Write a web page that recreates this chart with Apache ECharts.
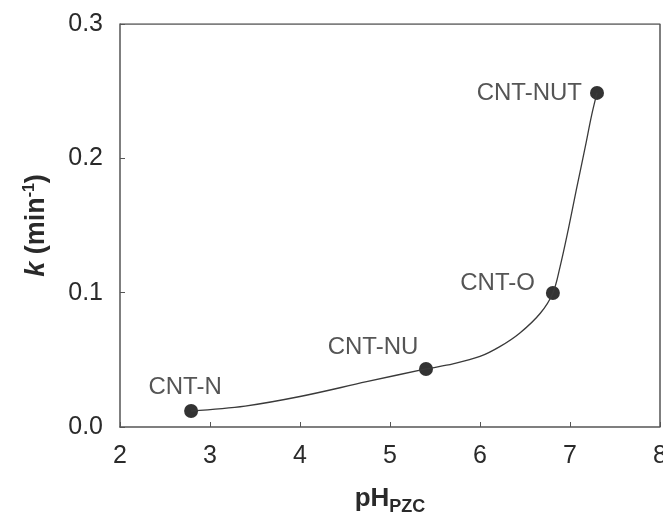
<!DOCTYPE html>
<html>
<head>
<meta charset="utf-8">
<script src="https://cdn.jsdelivr.net/npm/echarts@6/dist/echarts.min.js"></script>
<style>html,body{margin:0;padding:0;background:#fff}#c{width:663px;height:517px}</style>
</head>
<body>
<div id="c"></div>
<script>
// Sample points
const sampleNames = ['CNT-N', 'CNT-NU', 'CNT-O', 'CNT-NUT'];
const samplePH = [2.79, 5.40, 6.81, 7.30];
const sampleK = [0.0119, 0.0432, 0.0998, 0.2487];
// Fitted curve
const curvePH = [2.79, 3.39, 4.0, 4.74, 5.40, 5.70, 6.0, 6.22, 6.44, 6.67, 6.81, 6.89, 6.98, 7.07, 7.17, 7.24, 7.30];
const curveK = [0.0119, 0.0156, 0.0227, 0.0337, 0.0432, 0.0470, 0.0525, 0.0598, 0.0698, 0.0847, 0.0998, 0.1194, 0.1467, 0.1765, 0.2087, 0.2320, 0.2487];
const xTicks = [2, 3, 4, 5, 6, 7, 8];
const yTicks = [0.0, 0.1, 0.2, 0.3];

const labelPlacement = [
  { position: 'top', offset: [-6, 0] },
  { position: 'top', offset: [-53, 2] },
  { position: 'left', offset: [-6, -10] },
  { position: 'left', offset: [-3, 0] }
];

const chart = echarts.init(document.getElementById('c'));
const font = 'Liberation Sans, Arial, sans-serif';
const textColor = '#2a2a2a';
chart.setOption({
  animation: false,
  grid: { left: 120, top: 24, right: 3, bottom: 90, outerBoundsMode: 'none', containLabel: false },
  xAxis: {
    type: 'value', min: xTicks[0], max: xTicks[xTicks.length - 1], interval: 1,
    name: '{b|pH}{s|PZC}', nameLocation: 'middle', nameGap: 55,
    nameTextStyle: { rich: {
      b: { fontFamily: font, fontWeight: 'bold', fontSize: 26, color: textColor },
      s: { fontFamily: font, fontWeight: 'bold', fontSize: 18, color: textColor, verticalAlign: 'bottom', padding: [16, 0, 0, 0] }
    } },
    axisLine: { lineStyle: { color: '#555', width: 1.5 } },
    axisTick: { inside: true, length: 5, lineStyle: { color: '#555' } },
    axisLabel: { fontFamily: font, fontSize: 25, color: textColor, margin: 17,
      formatter: v => xTicks.includes(v) ? String(v) : '' },
    splitLine: { show: false }
  },
  yAxis: {
    type: 'value', min: yTicks[0], max: yTicks[yTicks.length - 1], interval: 0.1,
    name: '{i|k}{b| (min}{s|-1}{b|)}', nameLocation: 'middle', nameGap: 68, nameRotate: 90,
    nameTextStyle: { rich: {
      i: { fontFamily: font, fontWeight: 'bold', fontStyle: 'italic', fontSize: 27, color: textColor },
      b: { fontFamily: font, fontWeight: 'bold', fontSize: 27, color: textColor },
      s: { fontFamily: font, fontWeight: 'bold', fontSize: 16, color: textColor, verticalAlign: 'top', padding: [0, 0, 14, 0] }
    } },
    axisLine: { lineStyle: { color: '#555', width: 1.5 } },
    axisTick: { inside: true, length: 5, lineStyle: { color: '#555' } },
    axisLabel: { fontFamily: font, fontSize: 25, color: textColor, margin: 17,
      formatter: v => v.toFixed(1) },
    splitLine: { show: false }
  },
  series: [
    {
      type: 'line', smooth: 0.35, symbol: 'none',
      data: curvePH.map((x, i) => [x, curveK[i]]),
      lineStyle: { color: '#3a3a3a', width: 1.3 }
    },
    {
      type: 'scatter', symbolSize: 14, itemStyle: { color: '#000' },
      data: samplePH.map((x, i) => ({
        value: [x, sampleK[i]],
        label: { show: true, formatter: sampleNames[i], fontFamily: font, fontSize: 24, color: textColor,
          position: labelPlacement[i].position, offset: labelPlacement[i].offset }
      }))
    },
    {
      type: 'line', symbol: 'none', silent: true,
      data: [[xTicks[0], yTicks[yTicks.length - 1]], [xTicks[xTicks.length - 1], yTicks[yTicks.length - 1]], [xTicks[xTicks.length - 1], yTicks[0]]],
      lineStyle: { color: '#555', width: 1.5 }
    }
  ]
});
</script>
</body>
</html>
